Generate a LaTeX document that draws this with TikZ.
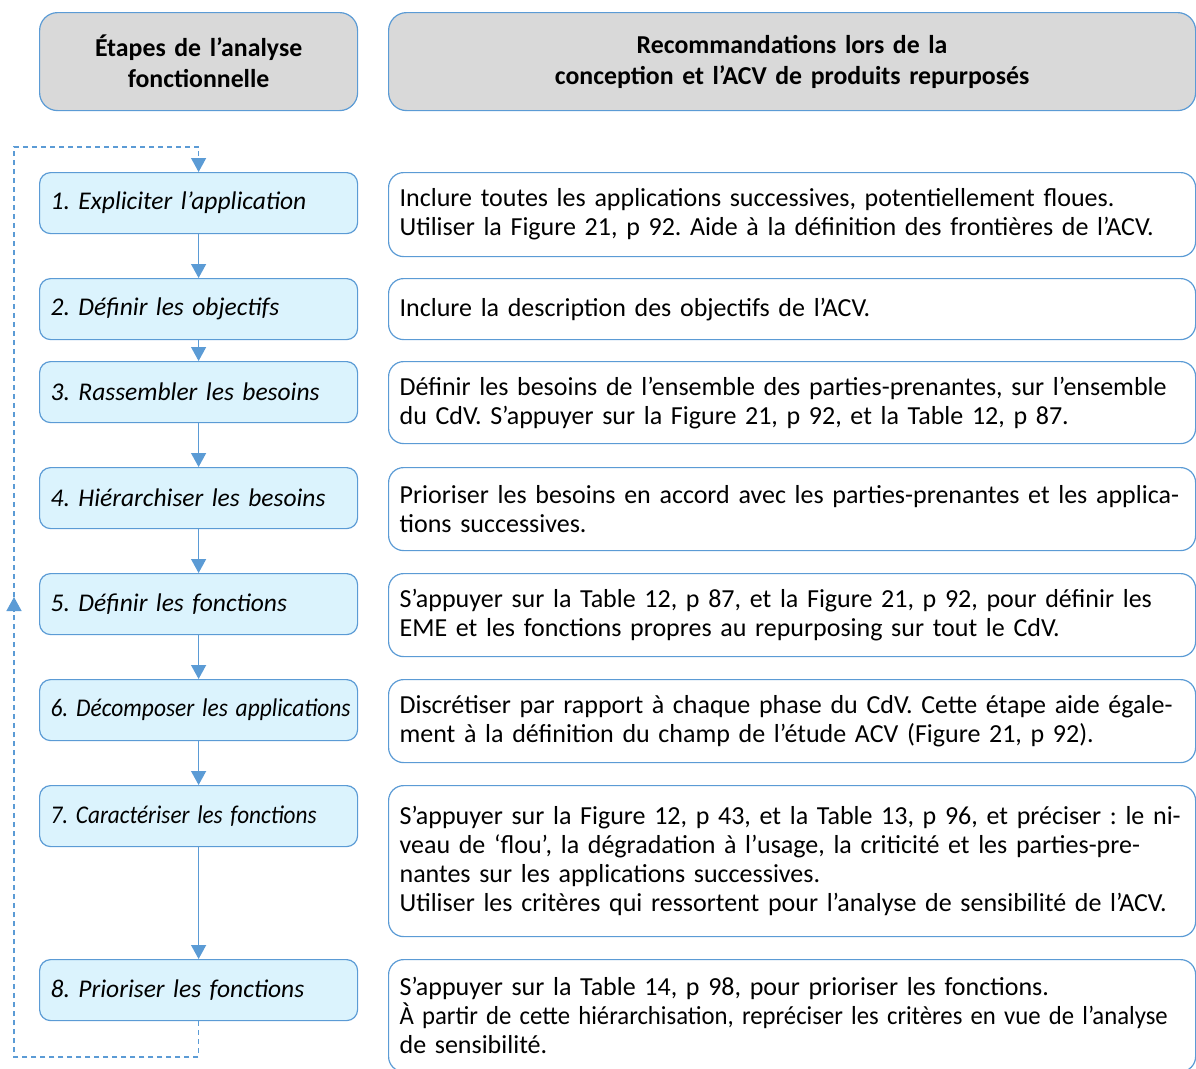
\documentclass[tikz,border=0pt]{standalone}
\usepackage{fontspec}
\setmainfont{Carlito}
\usetikzlibrary{arrows.meta}
\definecolor{bord}{HTML}{5B9BD5}
\definecolor{stepfill}{HTML}{DBF3FD}
\definecolor{headfill}{HTML}{D9D9D9}
\newcommand{\recfont}{\fontsize{26}{29}\selectfont}
\tikzset{
  base/.style={draw=bord, line width=1.2pt, anchor=north west, inner xsep=11pt, inner ysep=0pt, font=\recfont},
  headbox/.style={base, fill=headfill, rounded corners=18pt, align=center, font=\bfseries\fontsize{25.8}{31}\selectfont},
  stepbox/.style={base, fill=stepfill, rounded corners=11pt, minimum width=318pt, minimum height=61pt, text width=296pt, align=left, font=\itshape\fontsize{25.5}{29}\selectfont},
  recbox/.style={base, fill=white, rounded corners=15pt, minimum width=807pt, text width=785pt, align=left},
  flow/.style={draw=bord, line width=1.3pt, -{Triangle[width=15pt,length=14pt]}},
  loopline/.style={draw=bord, line width=1.3pt, dashed, dash pattern=on 5pt off 4pt}
}
\begin{document}
\frenchspacing
\begin{tikzpicture}[x=1pt,y=-1pt]
\useasboundingbox (0,0) rectangle (1196,1068);
% headers
\node[headbox, minimum width=318pt, minimum height=98pt, text width=296pt] (hl) at (39,12) {Étapes de l’analyse\\fonctionnelle};
\node[headbox, minimum width=807pt, minimum height=98pt, text width=785pt] (hr) at (388,12) {Recommandations lors de la\\conception et l’ACV de produits repurposés};
% steps
\node[stepbox] (s1) at (39,172) {1. Expliciter l’application};
\node[stepbox] (s2) at (39,278) {2. Définir les objectifs};
\node[stepbox] (s3) at (39,361) {3. Rassembler les besoins};
\node[stepbox] (s4) at (39,467) {4. Hiérarchiser les besoins};
\node[stepbox] (s5) at (39,573) {5. Définir les fonctions};
\node[stepbox] (s6) at (39,679) {\resizebox{300pt}{\height}{6. Décomposer les applications}};
\node[stepbox] (s7) at (39,785) {\resizebox{266pt}{\height}{7. Caractériser les fonctions}};
\node[stepbox] (s8) at (39,959) {8. Prioriser les fonctions};
% recommendations
\node[recbox, minimum height=84pt] (r1) at (388,172) {Inclure toutes les applications successives, potentiellement floues.\\Utiliser la Figure 21, p 92. Aide à la définition des frontières de l’ACV.};
\node[recbox, minimum height=61pt] (r2) at (388,278) {Inclure la description des objectifs de l’ACV.};
\node[recbox, minimum height=82pt] (r3) at (388,361) {Définir les besoins de l’ensemble des parties-prenantes, sur l’ensemble\\du CdV. S’appuyer sur la Figure 21, p 92, et la Table 12, p 87.};
\node[recbox, minimum height=83pt] (r4) at (388,467) {Prioriser les besoins en accord avec les parties-prenantes et les applica-\\tions successives.};
\node[recbox, minimum height=83pt] (r5) at (388,573) {S’appuyer sur la Table 12, p 87, et la Figure 21, p 92, pour définir les\\EME et les fonctions propres au repurposing sur tout le CdV.};
\node[recbox, minimum height=83pt] (r6) at (388,679) {Discrétiser par rapport à chaque phase du CdV. Cette étape aide égale-\\ment à la définition du champ de l’étude ACV (Figure 21, p 92).};
\node[recbox, minimum height=151pt] (r7) at (388,785) {S’appuyer sur la Figure 12, p 43, et la Table 13, p 96, et préciser : le ni-\\veau de ‘flou’, la dégradation à l’usage, la criticité et les parties-pre-\\nantes sur les applications successives.\\Utiliser les critères qui ressortent pour l’analyse de sensibilité de l’ACV.};
\node[recbox, minimum height=112pt] (r8) at (388,959) {S’appuyer sur la Table 14, p 98, pour prioriser les fonctions.\\\resizebox{768pt}{\height}{À partir de cette hiérarchisation, repréciser les critères en vue de l’analyse}\\de sensibilité.};
% flow arrows
\foreach \a/\b in {s1/s2,s2/s3,s3/s4,s4/s5,s5/s6,s6/s7,s7/s8}
  \draw[flow] (\a.south) -- (\b.north);
% feedback loop
\coordinate (bl) at (14,1057);
\coordinate (mid) at (14,597);
\coordinate (tl) at (14,147);
\coordinate (topin) at ([yshift=14pt]s1.north);
\coordinate (midbase) at ([yshift=-15pt]mid);
\draw[loopline] (s8.south) |- (bl) -- (midbase);
\draw[loopline] (mid) -- (tl) -| (topin);
\draw[flow] (topin) -- (s1.north);
\draw[flow] (midbase) -- (mid);
\end{tikzpicture}
\end{document}
